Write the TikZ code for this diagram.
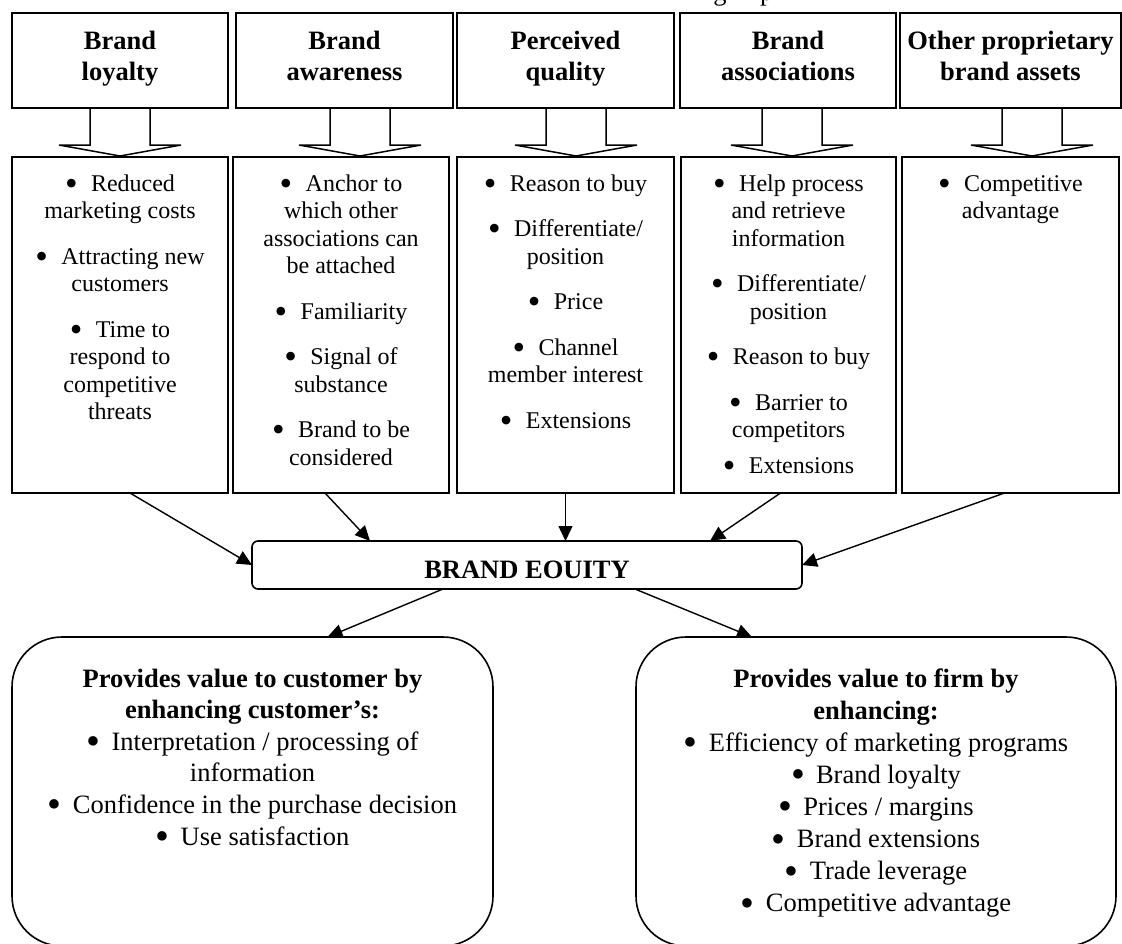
\documentclass[tikz,border=0pt]{standalone}
\usepackage{fontspec}
\usepackage{graphicx}
\setmainfont{Liberation Serif}
\usetikzlibrary{arrows.meta}

% font sizes
\newcommand{\hdfont}{\fontsize{26.5}{31}\selectfont\bfseries}
\newcommand{\smfont}{\fontsize{24}{27.5}\selectfont}
\newcommand{\lgfont}{\fontsize{26.5}{31.6}\selectfont}
\newcommand{\lgfontb}{\fontsize{26.5}{32.1}\selectfont}
% a larger list bullet followed by its gap
\newcommand{\bigbul}{\raisebox{-0.17em}{\scalebox{1.5}{\textbullet}}}
\newcommand{\bi}{\makebox[26pt][l]{\bigbul}}
\newcommand{\bj}{\makebox[25pt][l]{\bigbul}}
% struts that fix first baseline and last depth of the headings
\newcommand{\hs}{\rule{0pt}{19pt}}
\newcommand{\he}{\rule[-11pt]{0pt}{11pt}}

\begin{document}
\begin{tikzpicture}[x=1pt,y=-1pt,
  every node/.style={inner sep=0pt, outer sep=0pt},
  headbox/.style={draw, line width=1.6pt, minimum height=95pt, align=center, font=\hdfont},
  listbox/.style={draw, line width=1.6pt, minimum height=336pt},
  listtext/.style={anchor=north, align=center, font=\smfont},
  valuebox/.style={draw, line width=1.6pt, rounded corners=50pt, minimum height=309pt},
  valuetext/.style={anchor=north, align=center},
  conn/.style={line width=1.4pt, -{Triangle[length=15pt,width=14pt]}},
  bigarrow/.pic={\draw[line width=1.5pt, line join=miter]
     (-30,0) -- (-30,37) -- (-61,37) -- (0,48) -- (61,37) -- (30,37) -- (30,0);}
]
\useasboundingbox (0,0) rectangle (1122,943);

% caption line above the figure, mostly outside the page
\node[anchor=base, font=\fontsize{26.5}{30}\selectfont] (capg) at (720,0) {g};
\node[anchor=base west, font=\fontsize{26.5}{30}\selectfont] (capp) at (760,0) {p};

% dimension headings
\node[headbox, minimum width=216pt] (tb1) at (120,60.5)    {\hs Brand\\loyalty\he};
\node[headbox, minimum width=217pt] (tb2) at (344.5,60.5)  {\hs Brand\\awareness\he};
\node[headbox, minimum width=217pt] (tb3) at (565.5,60.5)  {\hs Perceived\\quality\he};
\node[headbox, minimum width=216pt] (tb4) at (788,60.5)    {\hs Brand\\associations\he};
\node[headbox, minimum width=221pt] (tb5) at (1010.5,60.5) {\hs Other proprietary\\brand assets\he};

% benefit boxes
\node[listbox, minimum width=216pt] (lb1) at (120,325)    {};
\node[listbox, minimum width=216pt] (lb2) at (341,325)    {};
\node[listbox, minimum width=217pt] (lb3) at (565.5,325)  {};
\node[listbox, minimum width=215pt] (lb4) at (788.5,325)  {};
\node[listbox, minimum width=217pt] (lb5) at (1010.5,325) {};

\node[listtext] (lt1) at ([yshift=-16pt]lb1.north)
  {\rule{0pt}{18pt}\bi Reduced\\marketing costs\\[18pt]
   \bi Attracting new\\customers\\[18pt]
   \bi Time to\\respond to\\competitive\\threats};
\node[listtext] (lt2) at ([yshift=-16pt]lb2.north)
  {\rule{0pt}{18pt}\bi Anchor to\\which other\\associations can\\be attached\\[18pt]
   \bi Familiarity\\[18pt]
   \bi Signal of\\substance\\[18pt]
   \bi Brand to be\\considered};
\node[listtext] (lt3) at ([yshift=-16pt]lb3.north)
  {\rule{0pt}{18pt}\bi Reason to buy\\[18pt]
   \bi Differentiate/\\position\\[18pt]
   \bi Price\\[18pt]
   \bi Channel\\member interest\\[18pt]
   \bi Extensions};
\node[listtext] (lt4) at ([yshift=-16pt]lb4.north)
  {\rule{0pt}{18pt}\bi Help process\\and retrieve\\information\\[18pt]
   \bi Differentiate/\\position\\[18pt]
   \bi Reason to buy\\[18pt]
   \bi Barrier to\\competitors\\[8pt]
   \bi Extensions};
\node[listtext] (lt5) at ([yshift=-16pt]lb5.north)
  {\rule{0pt}{18pt}\bi Competitive\\advantage};

% block arrows from headings to benefit boxes
\pic at (tb1.south) {bigarrow};
\pic at ([xshift=15.5pt]tb2.south) {bigarrow};
\pic at ([xshift=10.5pt]tb3.south) {bigarrow};
\pic at ([xshift=4pt]tb4.south) {bigarrow};
\pic at ([xshift=21.5pt]tb5.south) {bigarrow};

% central node
\node[draw, line width=1.6pt, rounded corners=6pt, minimum width=550pt, minimum height=48pt,
      text height=26pt, text depth=0pt, font=\hdfont] (eq) at (527,565) {BRAND EOUITY};

% value boxes
\node[valuebox, minimum width=481pt] (lc) at (252.5,791.5) {};
\node[valuebox, minimum width=480pt] (rc) at (876,791.5) {};

\node[valuetext, font=\lgfont] (lct) at ([yshift=-30pt]lc.north)
  {\rule{0pt}{20pt}\textbf{Provides value to customer by}\\
   \textbf{enhancing customer’s:}\\
   \bj Interpretation / processing of\\information\\
   \bj Confidence in the purchase decision\\
   \bj Use satisfaction};
\node[valuetext, font=\lgfontb] (rct) at ([yshift=-30pt]rc.north)
  {\rule{0pt}{20pt}\textbf{Provides value to firm by}\\
   \textbf{enhancing:}\\
   \bj Efficiency of marketing programs\\
   \bj Brand loyalty\\
   \bj Prices / margins\\
   \bj Brand extensions\\
   \bj Trade leverage\\
   \bj Competitive advantage};

% connectors into and out of the central node
\draw[conn] ([xshift=10pt]lb1.south) -- (eq.west);
\draw[conn] ([xshift=-16pt]lb2.south) -- ([xshift=-157pt]eq.north);
\draw[conn] (lb3.south) -- (lb3.south |- eq.north);
\draw[conn] ([xshift=-8pt]lb4.south) -- ([xshift=183pt]eq.north);
\draw[conn] ([xshift=-6pt]lb5.south) -- (eq.east);
\draw[conn] ([xshift=-84pt]eq.south) -- ([xshift=75pt]lc.north);
\draw[conn] ([xshift=108pt]eq.south) -- ([xshift=-124pt]rc.north);
\end{tikzpicture}
\end{document}
